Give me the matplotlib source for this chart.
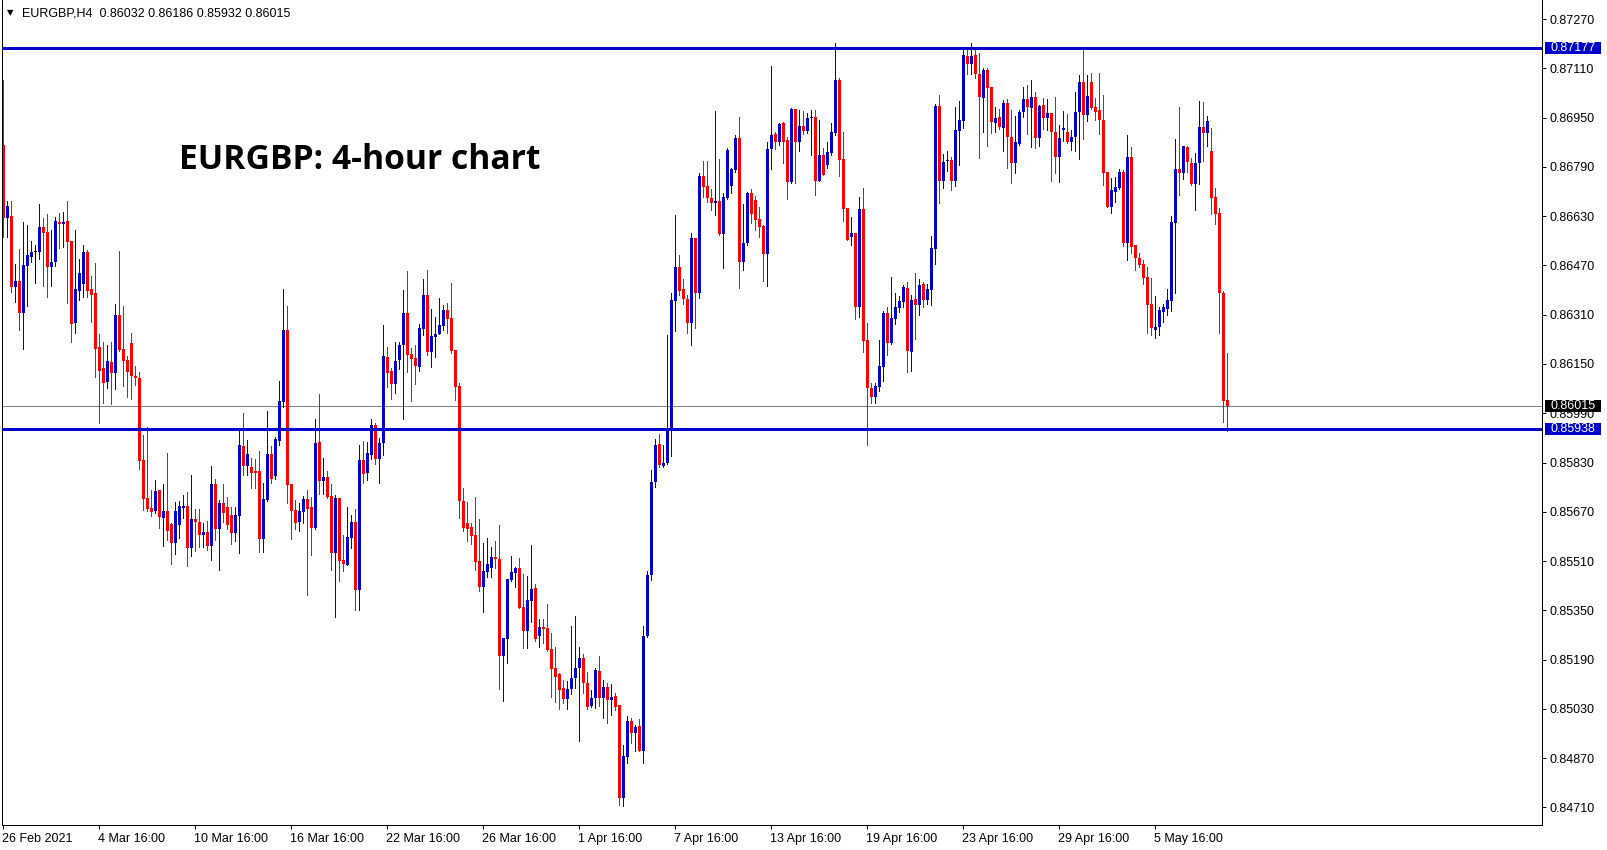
import matplotlib
matplotlib.use("Agg")
import matplotlib.pyplot as plt
from matplotlib.patches import Rectangle
from matplotlib.transforms import blended_transform_factory

plt.rcParams['font.family'] = ['Liberation Sans', 'DejaVu Sans']

# EURGBP H4 candles (oldest first)
opens = [
    0.86861, 0.86624, 0.86631, 0.86400, 0.86420, 0.86316, 0.86468, 0.86498, 0.86514, 0.86514,
    0.86595, 0.86579, 0.86465, 0.86481, 0.86611, 0.86605, 0.86614, 0.86549, 0.86283, 0.86387,
    0.86410, 0.86514, 0.86394, 0.86381, 0.86205, 0.86137, 0.86092, 0.86157, 0.86121, 0.86309,
    0.86199, 0.86163, 0.86218, 0.86111, 0.86105, 0.85838, 0.85715, 0.85683, 0.85673, 0.85741,
    0.85650, 0.85673, 0.85631, 0.85569, 0.85627, 0.85683, 0.85689, 0.85553, 0.85647, 0.85637,
    0.85595, 0.85605, 0.85559, 0.85760, 0.85614, 0.85699, 0.85686, 0.85660, 0.85601, 0.85657,
    0.85884, 0.85819, 0.85816, 0.85803, 0.85803, 0.85582, 0.85709, 0.85858, 0.85786, 0.85900,
    0.86027, 0.86261, 0.85760, 0.85676, 0.85637, 0.85670, 0.85712, 0.85686, 0.85618, 0.85897,
    0.85770, 0.85783, 0.85722, 0.85536, 0.85715, 0.85514, 0.85497, 0.85585, 0.85637, 0.85416,
    0.85838, 0.85796, 0.85855, 0.85952, 0.85842, 0.85894, 0.86173, 0.86127, 0.86085, 0.86163,
    0.86212, 0.86316, 0.86183, 0.86170, 0.86140, 0.86264, 0.86374, 0.86189, 0.86238, 0.86247,
    0.86274, 0.86325, 0.86299, 0.86196, 0.86079, 0.85705, 0.85634, 0.85621, 0.85595, 0.85510,
    0.85426, 0.85475, 0.85488, 0.85523, 0.85517, 0.85202, 0.85257, 0.85449, 0.85471, 0.85488,
    0.85361, 0.85283, 0.85381, 0.85423, 0.85267, 0.85296, 0.85293, 0.85225, 0.85163, 0.85144,
    0.85098, 0.85062, 0.85095, 0.85131, 0.85163, 0.85195, 0.85114, 0.85040, 0.85066, 0.85153,
    0.85066, 0.85101, 0.85059, 0.85072, 0.85043, 0.84741, 0.84874, 0.84991, 0.84952, 0.84975,
    0.84894, 0.85267, 0.85465, 0.85767, 0.85890, 0.85819, 0.85829, 0.85936, 0.86355, 0.86465,
    0.86394, 0.86361, 0.86283, 0.86559, 0.86381, 0.86761, 0.86728, 0.86689, 0.86673, 0.86679,
    0.86572, 0.86689, 0.86728, 0.86780, 0.86884, 0.86481, 0.86543, 0.86705, 0.86683, 0.86621,
    0.86598, 0.86507, 0.86848, 0.86897, 0.86871, 0.86933, 0.86877, 0.86741, 0.86978, 0.86871,
    0.86923, 0.86907, 0.86949, 0.86952, 0.86744, 0.86829, 0.86796, 0.86835, 0.86900, 0.87072,
    0.86816, 0.86657, 0.86562, 0.86575, 0.86335, 0.86653, 0.86228, 0.86072, 0.86043, 0.86075,
    0.86140, 0.86316, 0.86218, 0.86296, 0.86332, 0.86351, 0.86397, 0.86189, 0.86361, 0.86342,
    0.86410, 0.86358, 0.86390, 0.86524, 0.86988, 0.86744, 0.86809, 0.86813, 0.86744, 0.86907,
    0.86939, 0.87150, 0.87124, 0.87153, 0.87092, 0.87014, 0.87105, 0.87049, 0.86933, 0.86952,
    0.86916, 0.86998, 0.86887, 0.86803, 0.86864, 0.86968, 0.87011, 0.86981, 0.87017, 0.86884,
    0.86991, 0.86949, 0.86965, 0.86903, 0.86822, 0.86910, 0.86903, 0.86871, 0.86887, 0.86968,
    0.87066, 0.86959, 0.87066, 0.86985, 0.86975, 0.86942, 0.86774, 0.86660, 0.86709, 0.86722,
    0.86774, 0.86543, 0.86822, 0.86537, 0.86494, 0.86475, 0.86433, 0.86345, 0.86261, 0.86270,
    0.86319, 0.86329, 0.86355, 0.86608, 0.86783, 0.86770, 0.86855, 0.86803, 0.86735, 0.86803,
    0.86920, 0.86900, 0.86842, 0.86692, 0.86640, 0.86381, 0.86032,
]
highs = [
    0.87072, 0.86679, 0.86679, 0.86475, 0.86524, 0.86611, 0.86601, 0.86549, 0.86537, 0.86670,
    0.86624, 0.86637, 0.86585, 0.86627, 0.86640, 0.86644, 0.86679, 0.86549, 0.86585, 0.86491,
    0.86537, 0.86520, 0.86436, 0.86478, 0.86247, 0.86221, 0.86212, 0.86221, 0.86345, 0.86517,
    0.86338, 0.86176, 0.86251, 0.86144, 0.86124, 0.85920, 0.85946, 0.85741, 0.85773, 0.85741,
    0.85760, 0.85861, 0.85634, 0.85702, 0.85705, 0.85725, 0.85735, 0.85790, 0.85679, 0.85679,
    0.85634, 0.85640, 0.85819, 0.85777, 0.85708, 0.85760, 0.85718, 0.85686, 0.85686, 0.85933,
    0.85991, 0.85903, 0.85845, 0.85842, 0.85868, 0.85764, 0.85997, 0.85884, 0.85913, 0.86095,
    0.86394, 0.86338, 0.85760, 0.85708, 0.85699, 0.85722, 0.85741, 0.85718, 0.85972, 0.86053,
    0.85845, 0.85803, 0.85760, 0.85725, 0.85715, 0.85595, 0.85686, 0.85660, 0.85679, 0.85887,
    0.85900, 0.85897, 0.85972, 0.85959, 0.85910, 0.86277, 0.86205, 0.86137, 0.86221, 0.86221,
    0.86390, 0.86452, 0.86202, 0.86212, 0.86280, 0.86426, 0.86455, 0.86329, 0.86303, 0.86364,
    0.86342, 0.86348, 0.86413, 0.86196, 0.86088, 0.85747, 0.85702, 0.85634, 0.85718, 0.85647,
    0.85569, 0.85585, 0.85556, 0.85575, 0.85627, 0.85260, 0.85452, 0.85527, 0.85491, 0.85520,
    0.85468, 0.85462, 0.85562, 0.85436, 0.85322, 0.85322, 0.85371, 0.85277, 0.85231, 0.85147,
    0.85124, 0.85121, 0.85299, 0.85332, 0.85231, 0.85208, 0.85150, 0.85092, 0.85163, 0.85202,
    0.85124, 0.85114, 0.85111, 0.85082, 0.85043, 0.84913, 0.85007, 0.85001, 0.84978, 0.84997,
    0.85299, 0.85478, 0.85806, 0.85907, 0.85923, 0.85887, 0.86244, 0.86381, 0.86634, 0.86504,
    0.86426, 0.86374, 0.86575, 0.86559, 0.86770, 0.86809, 0.86809, 0.86718, 0.86972, 0.86816,
    0.86705, 0.86851, 0.86787, 0.86894, 0.86952, 0.86670, 0.86709, 0.86718, 0.86696, 0.86660,
    0.86601, 0.86871, 0.87118, 0.86903, 0.86933, 0.86936, 0.86887, 0.86981, 0.86978, 0.86975,
    0.86972, 0.86965, 0.86975, 0.86975, 0.86942, 0.86851, 0.86871, 0.86933, 0.87192, 0.87079,
    0.86903, 0.86657, 0.86627, 0.86575, 0.86692, 0.86722, 0.86283, 0.86088, 0.86088, 0.86228,
    0.86322, 0.86335, 0.86433, 0.86381, 0.86371, 0.86407, 0.86416, 0.86374, 0.86446, 0.86426,
    0.86416, 0.86410, 0.86566, 0.86994, 0.87024, 0.86832, 0.86842, 0.86822, 0.86985, 0.87004,
    0.87176, 0.87176, 0.87192, 0.87176, 0.87160, 0.87111, 0.87111, 0.87049, 0.86985, 0.86978,
    0.87007, 0.87011, 0.86975, 0.86955, 0.86975, 0.87049, 0.87056, 0.87072, 0.87033, 0.86991,
    0.87014, 0.87011, 0.86965, 0.87017, 0.86926, 0.86972, 0.86962, 0.86910, 0.87033, 0.87088,
    0.87176, 0.87088, 0.87095, 0.87014, 0.87095, 0.87024, 0.86774, 0.86754, 0.86757, 0.86783,
    0.86780, 0.86894, 0.86855, 0.86537, 0.86511, 0.86488, 0.86465, 0.86429, 0.86371, 0.86335,
    0.86345, 0.86394, 0.86631, 0.86881, 0.86985, 0.86858, 0.86858, 0.86819, 0.86835, 0.87004,
    0.87001, 0.86955, 0.86916, 0.86722, 0.86657, 0.86387, 0.86186,
]
lows = [
    0.86563, 0.86563, 0.86384, 0.86351, 0.86261, 0.86199, 0.86338, 0.86481, 0.86413, 0.86491,
    0.86403, 0.86368, 0.86403, 0.86468, 0.86527, 0.86530, 0.86348, 0.86221, 0.86251, 0.86358,
    0.86368, 0.86368, 0.86287, 0.86108, 0.85959, 0.86023, 0.86072, 0.86020, 0.86069, 0.86192,
    0.86079, 0.86043, 0.86036, 0.86082, 0.85809, 0.85676, 0.85673, 0.85657, 0.85666, 0.85618,
    0.85559, 0.85579, 0.85501, 0.85533, 0.85585, 0.85650, 0.85494, 0.85527, 0.85543, 0.85556,
    0.85556, 0.85546, 0.85514, 0.85579, 0.85481, 0.85637, 0.85614, 0.85566, 0.85575, 0.85536,
    0.85790, 0.85790, 0.85747, 0.85747, 0.85540, 0.85540, 0.85705, 0.85764, 0.85777, 0.85887,
    0.86011, 0.85699, 0.85582, 0.85614, 0.85608, 0.85634, 0.85400, 0.85530, 0.85614, 0.85728,
    0.85728, 0.85715, 0.85481, 0.85329, 0.85446, 0.85478, 0.85497, 0.85553, 0.85351, 0.85351,
    0.85764, 0.85773, 0.85842, 0.85825, 0.85764, 0.85855, 0.86075, 0.86036, 0.86056, 0.86134,
    0.85972, 0.86124, 0.86030, 0.86085, 0.86127, 0.86244, 0.86179, 0.86140, 0.86173, 0.86247,
    0.86261, 0.86251, 0.86186, 0.86033, 0.85650, 0.85608, 0.85575, 0.85566, 0.85481, 0.85413,
    0.85345, 0.85459, 0.85459, 0.85488, 0.85095, 0.85056, 0.85179, 0.85446, 0.85426, 0.85358,
    0.85228, 0.85228, 0.85312, 0.85251, 0.85231, 0.85244, 0.85218, 0.85069, 0.85053, 0.85030,
    0.85049, 0.85030, 0.85079, 0.85098, 0.84926, 0.85082, 0.85030, 0.85036, 0.85033, 0.85040,
    0.85001, 0.84984, 0.85010, 0.85027, 0.84718, 0.84715, 0.84855, 0.84919, 0.84894, 0.84894,
    0.84855, 0.85264, 0.85449, 0.85751, 0.85816, 0.85816, 0.85825, 0.85851, 0.86257, 0.86374,
    0.86345, 0.86251, 0.86212, 0.86267, 0.86364, 0.86692, 0.86676, 0.86650, 0.86634, 0.86569,
    0.86462, 0.86686, 0.86705, 0.86774, 0.86397, 0.86455, 0.86537, 0.86608, 0.86585, 0.86563,
    0.86420, 0.86403, 0.86783, 0.86848, 0.86861, 0.86803, 0.86686, 0.86738, 0.86738, 0.86842,
    0.86897, 0.86900, 0.86829, 0.86699, 0.86744, 0.86764, 0.86787, 0.86829, 0.86894, 0.86761,
    0.86614, 0.86553, 0.86537, 0.86296, 0.86303, 0.86189, 0.85887, 0.86023, 0.86023, 0.86062,
    0.86095, 0.86179, 0.86215, 0.86280, 0.86319, 0.86335, 0.86124, 0.86127, 0.86231, 0.86309,
    0.86335, 0.86345, 0.86342, 0.86475, 0.86673, 0.86722, 0.86777, 0.86715, 0.86728, 0.86796,
    0.86916, 0.87092, 0.87092, 0.87079, 0.86819, 0.86903, 0.86858, 0.86900, 0.86903, 0.86913,
    0.86842, 0.86787, 0.86738, 0.86770, 0.86861, 0.86952, 0.86897, 0.86855, 0.86851, 0.86858,
    0.86913, 0.86910, 0.86744, 0.86770, 0.86741, 0.86874, 0.86868, 0.86845, 0.86842, 0.86816,
    0.86881, 0.86939, 0.86978, 0.86942, 0.86897, 0.86731, 0.86660, 0.86640, 0.86676, 0.86718,
    0.86533, 0.86488, 0.86511, 0.86455, 0.86465, 0.86410, 0.86251, 0.86244, 0.86235, 0.86244,
    0.86287, 0.86309, 0.86322, 0.86381, 0.86699, 0.86751, 0.86774, 0.86731, 0.86650, 0.86735,
    0.86809, 0.86858, 0.86637, 0.86605, 0.86251, 0.85962, 0.85932,
]
closes = [
    0.86624, 0.86663, 0.86400, 0.86420, 0.86316, 0.86472, 0.86504, 0.86514, 0.86514, 0.86595,
    0.86575, 0.86465, 0.86481, 0.86614, 0.86605, 0.86611, 0.86546, 0.86280, 0.86394, 0.86446,
    0.86514, 0.86387, 0.86374, 0.86199, 0.86127, 0.86088, 0.86160, 0.86121, 0.86309, 0.86196,
    0.86160, 0.86124, 0.86111, 0.86105, 0.85835, 0.85712, 0.85679, 0.85670, 0.85738, 0.85653,
    0.85673, 0.85608, 0.85569, 0.85673, 0.85689, 0.85689, 0.85553, 0.85647, 0.85637, 0.85595,
    0.85605, 0.85559, 0.85760, 0.85614, 0.85699, 0.85666, 0.85627, 0.85601, 0.85660, 0.85887,
    0.85819, 0.85858, 0.85796, 0.85796, 0.85582, 0.85712, 0.85858, 0.85777, 0.85907, 0.86030,
    0.86261, 0.85757, 0.85673, 0.85634, 0.85673, 0.85712, 0.85679, 0.85618, 0.85894, 0.85770,
    0.85783, 0.85718, 0.85536, 0.85715, 0.85510, 0.85501, 0.85588, 0.85637, 0.85416, 0.85838,
    0.85793, 0.85861, 0.85952, 0.85842, 0.85894, 0.86176, 0.86121, 0.86085, 0.86160, 0.86212,
    0.86316, 0.86179, 0.86166, 0.86144, 0.86267, 0.86374, 0.86189, 0.86241, 0.86247, 0.86277,
    0.86325, 0.86296, 0.86192, 0.86075, 0.85705, 0.85618, 0.85614, 0.85592, 0.85507, 0.85426,
    0.85478, 0.85501, 0.85523, 0.85517, 0.85202, 0.85260, 0.85452, 0.85475, 0.85488, 0.85358,
    0.85283, 0.85384, 0.85420, 0.85257, 0.85296, 0.85290, 0.85221, 0.85160, 0.85134, 0.85092,
    0.85062, 0.85095, 0.85131, 0.85163, 0.85195, 0.85114, 0.85036, 0.85066, 0.85157, 0.85066,
    0.85101, 0.85059, 0.85069, 0.85036, 0.84741, 0.84877, 0.84991, 0.84952, 0.84971, 0.84894,
    0.85267, 0.85465, 0.85767, 0.85887, 0.85822, 0.85829, 0.85936, 0.86358, 0.86465, 0.86387,
    0.86361, 0.86283, 0.86559, 0.86381, 0.86761, 0.86725, 0.86689, 0.86673, 0.86679, 0.86572,
    0.86692, 0.86845, 0.86783, 0.86884, 0.86481, 0.86543, 0.86705, 0.86637, 0.86618, 0.86595,
    0.86507, 0.86848, 0.86894, 0.86871, 0.86929, 0.86871, 0.86741, 0.86978, 0.86871, 0.86923,
    0.86907, 0.86949, 0.86952, 0.86744, 0.86829, 0.86764, 0.86838, 0.86903, 0.87072, 0.86813,
    0.86653, 0.86553, 0.86575, 0.86335, 0.86653, 0.86225, 0.86072, 0.86043, 0.86079, 0.86144,
    0.86316, 0.86218, 0.86299, 0.86335, 0.86355, 0.86400, 0.86192, 0.86358, 0.86342, 0.86407,
    0.86358, 0.86394, 0.86527, 0.86988, 0.86744, 0.86806, 0.86813, 0.86744, 0.86910, 0.86942,
    0.87153, 0.87124, 0.87150, 0.87092, 0.87017, 0.87105, 0.87046, 0.86936, 0.86949, 0.86920,
    0.86998, 0.86887, 0.86803, 0.86871, 0.86968, 0.87011, 0.86985, 0.87017, 0.86884, 0.86988,
    0.86949, 0.86965, 0.86903, 0.86822, 0.86884, 0.86916, 0.86871, 0.86887, 0.86968, 0.87066,
    0.86959, 0.87020, 0.86981, 0.86968, 0.86942, 0.86770, 0.86660, 0.86715, 0.86725, 0.86774,
    0.86543, 0.86822, 0.86530, 0.86494, 0.86472, 0.86429, 0.86342, 0.86267, 0.86270, 0.86325,
    0.86335, 0.86358, 0.86611, 0.86783, 0.86770, 0.86858, 0.86806, 0.86735, 0.86803, 0.86920,
    0.86900, 0.86939, 0.86689, 0.86637, 0.86381, 0.86030, 0.86015,
]

time_labels = ['26 Feb 2021', '4 Mar 16:00', '10 Mar 16:00', '16 Mar 16:00', '22 Mar 16:00',
               '26 Mar 16:00', '1 Apr 16:00', '7 Apr 16:00', '13 Apr 16:00', '19 Apr 16:00',
               '23 Apr 16:00', '29 Apr 16:00', '5 May 16:00']
time_label_bars = [0, 24, 48, 72, 96, 120, 144, 168, 192, 216, 240, 264, 288]
price_ticks = [0.84710, 0.84870, 0.85030, 0.85190, 0.85350, 0.85510, 0.85670, 0.85830, 0.85990,
               0.86150, 0.86310, 0.86470, 0.86630, 0.86790, 0.86950, 0.87110, 0.87270]
levels = [0.87177, 0.85938]
last_price = 0.86015
header = 'EURGBP,H4  0.86032 0.86186 0.85932 0.86015'
title = 'EURGBP: 4-hour chart'

BLUE = '#0000CD'
RED = '#FF0000'
PX = 0.72  # one pixel in points

W, H = 1607, 850
fig = plt.figure(figsize=(W / 100, H / 100), dpi=100)
ax = fig.add_axes([2 / W, 25 / H, 1540 / W, 825 / H])
ax.set_xlim(-0.325, -0.325 + 1540 / 4)
ax.set_ylim(0.84653, 0.87332)
ypx = (0.87332 - 0.84653) / 825  # price per pixel

# current price line under the candles
ax.axhline(last_price, color='#808080', lw=PX, zorder=1)

n = len(opens)
xs = list(range(n))
cols = []
for o, c in zip(opens, closes):
    if c > o:
        cols.append(BLUE)
    elif c < o:
        cols.append(RED)
    else:
        cols.append('black')
ax.vlines(xs, lows, highs, colors=cols, lw=PX, zorder=2, antialiased=False)
bottoms = [min(o, c) for o, c in zip(opens, closes)]
heights = [max(abs(c - o), ypx) for o, c in zip(opens, closes)]
ax.bar(xs, heights, bottom=bottoms, width=0.75, color=cols, linewidth=0,
       zorder=2, antialiased=False)

# support / resistance lines
for lv in levels:
    ax.axhline(lv, color=BLUE, lw=3 * PX, zorder=3)

# spines and axes
ax.spines['top'].set_visible(False)
for s in ['left', 'right', 'bottom']:
    ax.spines[s].set_linewidth(PX)
    ax.spines[s].set_color('black')

ax.yaxis.tick_right()
ax.set_yticks(price_ticks)
ax.set_yticklabels(['%.5f' % p for p in price_ticks])
ax.tick_params(axis='y', direction='out', length=4 * PX, width=PX, pad=2.7,
               labelsize=9, colors='black')
ax.set_xticks(time_label_bars)
ax.set_xticklabels([])
ax.tick_params(axis='x', direction='out', length=4 * PX, width=PX)

tx = blended_transform_factory(ax.transData, ax.transAxes)
for b, lab in zip(time_label_bars, time_labels):
    ax.text(b - 0.25, -14 / 825, lab, transform=tx, ha='left', va='center',
            fontsize=9, color='black')

# price boxes on the right axis
ty = blended_transform_factory(ax.transAxes, ax.transData)
for lv, fc in [(levels[0], BLUE), (levels[1], BLUE), (last_price, 'black')]:
    ax.add_patch(Rectangle((1543 / 1540, lv - 6 * ypx), 56 / 1540, 12 * ypx,
                           transform=ty, facecolor=fc, edgecolor='none',
                           clip_on=False, zorder=5))
    ax.text(1548.5 / 1540, lv, '%.5f' % lv, transform=ty, ha='left', va='center',
            fontsize=9, color='white', zorder=6, clip_on=False)

# header and title
fig.text(7 / W, 1 - 13 / H, '\u25bc', fontsize=6, ha='left', va='center',
         family=['DejaVu Sans'])
fig.text(22 / W, 1 - 13 / H, header, fontsize=9, ha='left', va='center')
fig.text(179 / W, 1 - 160 / H, title, fontsize=24.2, fontweight='bold',
         ha='left', va='center', family=['Open Sans', 'DejaVu Sans'])

fig.savefig('out.png', dpi=100)
